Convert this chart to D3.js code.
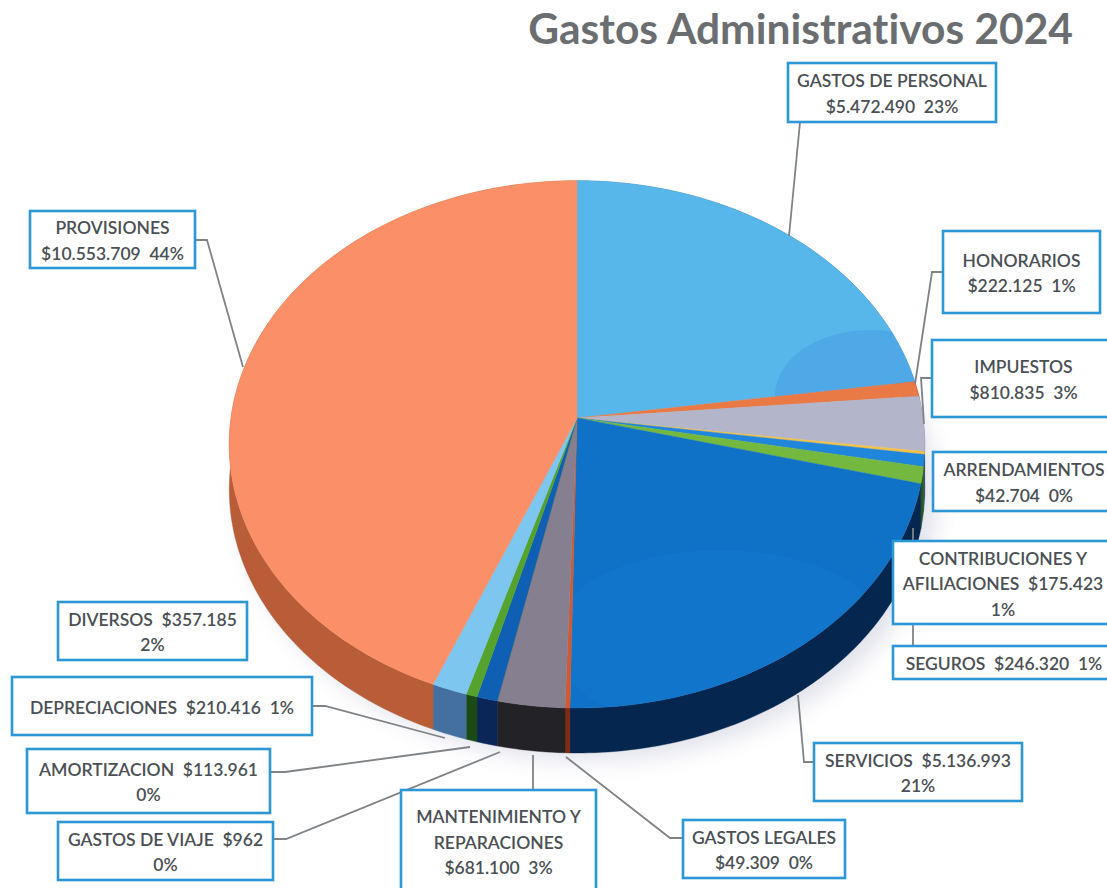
<!DOCTYPE html>
<html><head><meta charset="utf-8">
<script src="https://cdnjs.cloudflare.com/ajax/libs/d3/7.8.5/d3.min.js"></script>
<style>html,body{margin:0;background:#fff}svg{display:block}text{font-variant-ligatures:none}</style></head>
<body><svg id="c" width="1107" height="888"></svg>
<script>
const chartTitle = "Gastos Administrativos 2024";
const categories = ["GASTOS DE PERSONAL","HONORARIOS","IMPUESTOS","ARRENDAMIENTOS","CONTRIBUCIONES Y AFILIACIONES","SEGUROS","SERVICIOS","GASTOS LEGALES","MANTENIMIENTO Y REPARACIONES","GASTOS DE VIAJE","DEPRECIACIONES","AMORTIZACION","DIVERSOS","PROVISIONES"];
const values = [5472490,222125,810835,42704,175423,246320,5136993,49309,681100,962,210416,113961,357185,10553709];
const percents = ["23%","1%","3%","0%","1%","1%","21%","0%","3%","0%","1%","0%","2%","44%"];
const topColors = ["#58b7ea","#ea7a45","#b3b5cb","#f4c24a","#1f86dc","#74b83f","#0f72c6","#cf5a33","#857f8f","#b08a20","#0f5fb4","#55a32c","#7cc6ef","#fb9068"];
const wallColors = ["#2f6f98","#8a4526","#6c6d7c","#8e7220","#123f78","#2c5a20","#05264f","#7a2d14","#232327","#4a3a10","#0a2558","#1b4a16","#44709f","#b85d38"];
const textTemplates = ["{n}\n{v}  {p}","{n}\n{v}  {p}","{n}\n{v}  {p}","{n}\n{v}  {p}","CONTRIBUCIONES Y\nAFILIACIONES  {v}\n{p}","{n}  {v}  {p}","{n}  {v}\n{p}","{n}\n{v}  {p}","MANTENIMIENTO Y\nREPARACIONES\n{v}  {p}","{n}  {v}\n{p}","{n}  {v}  {p}","{n}  {v}\n{p}","{n}  {v}\n{p}","{n}\n{v}  {p}"];
// label box [x0,y0,x1,y1]
const boxes = [[788,63,996,122],[943,231,1100,313],[932,340,1115,417],[933,452,1115,511],[893,541,1113,624],[893,646,1115,679],[814,743,1022,801],[683,820,845,878],[401,790,596,900],[58,822,273,880],[12,677,312,735],[27,749,270,813],[58,602,247,660],[30,211,195,268]];
// leader polylines
const leaders = [[[800,122],[789,236]],[[943,272],[932,272],[915,384]],[[932,378],[921,378],[924,424]],[],[],[[913,646],[913,528]],[[814,762],[804,762],[798,695]],[[683,838],[670,838],[566,757]],[[533,790],[533,755]],[[273,839],[286,839],[500,752]],[[312,706],[325,706],[445,738]],[[270,772],[285,772],[470,747]],[],[[195,240],[207,240],[243,367]]];

const svg = d3.select("#c");
const defs = svg.append("defs");
const apexX = 577, apexY = 418, radiusX = 346, radiusY = 261, persp = 0.1, depth = 45;
const scaleU = d3.scaleLinear().domain([0,1]).range([0,radiusX]);
const scaleV = d3.scaleLinear().domain([0,1]).range([0,radiusY]);
const project = (a, r=1) => {
  const u = Math.sin(a)*r, v = -Math.cos(a)*r, w = 1 - persp*v;
  return [apexX + scaleU(u)/w, apexY + scaleV(v)/w];
};
const arcs = d3.pie().sort(null).value(d=>d)(values);
const rim = d => { const n = Math.max(2, Math.ceil((d.endAngle-d.startAngle)*60)); return d3.range(n+1).map(i=>project(d.startAngle+(d.endAngle-d.startAngle)*i/n)); };
const line = d3.line();

defs.append("filter").attr("id","blur").attr("x","-20%").attr("y","-20%").attr("width","140%").attr("height","140%").append("feGaussianBlur").attr("stdDeviation",11);
const g = svg.append("g");
const fullRim = d3.range(0,361,3).map(a=>project(a*Math.PI/180));
g.append("path").attr("d",line(fullRim.map(p=>[p[0]+12,p[1]+depth+8]))+"Z").attr("fill","#c9cbdc").attr("opacity",.55).attr("filter","url(#blur)");

// walls
g.selectAll("path.wall").data(arcs).join("path").attr("class","wall")
 .attr("fill",(d,i)=>wallColors[i]).attr("stroke",(d,i)=>wallColors[i]).attr("stroke-width",.4)
 .attr("d",d=>{const r=rim(d);return line(r.concat(r.slice().reverse().map(p=>[p[0],p[1]+depth])))+"Z";});

// top faces
g.selectAll("path.top").data(arcs).join("path").attr("class","top")
 .attr("fill",(d,i)=>topColors[i]).attr("stroke",(d,i)=>topColors[i]).attr("stroke-width",.4)
 .attr("d",d=>line([[apexX,apexY]].concat(rim(d)))+"Z");

// shading patches on the two blue slices
const clip = (id,i)=>defs.append("clipPath").attr("id",id).append("path").attr("d",line([[apexX,apexY]].concat(rim(arcs[i])))+"Z");
clip("cp0",0); clip("cp6",6);
g.append("g").attr("clip-path","url(#cp0)").append("ellipse").attr("cx",870).attr("cy",395).attr("rx",95).attr("ry",65).attr("fill","#4a9fe3").attr("opacity",.55);
g.append("g").attr("clip-path","url(#cp6)").append("ellipse").attr("cx",720).attr("cy",640).attr("rx",170).attr("ry",90).attr("fill","#1a7fd6").attr("opacity",.28);

// leaders
svg.append("g").selectAll("path").data(leaders).join("path").attr("d",d=>d.length?line(d):null)
 .attr("fill","none").attr("stroke","#7f8386").attr("stroke-width",1.8);

// boxes + labels
const money = d3.formatLocale({decimal:",",thousands:".",grouping:[3],currency:["$",""]}).format("$,");
const lab = svg.append("g").selectAll("g").data(categories).join("g");
lab.append("rect").attr("x",(d,i)=>boxes[i][0]).attr("y",(d,i)=>boxes[i][1])
 .attr("width",(d,i)=>boxes[i][2]-boxes[i][0]).attr("height",(d,i)=>boxes[i][3]-boxes[i][1])
 .attr("fill","#fff").attr("stroke","#2b97d4").attr("stroke-width",2.6);
const lh = 25.5;
lab.each(function(d,i){
  const b = boxes[i];
  const rows = textTemplates[i].replace("{n}",d).replace("{v}",money(values[i])).replace("{p}",percents[i]).split("\n");
  const top = i===8 ? 817 : (b[1]+b[3])/2 - (rows.length-1)*lh/2 + 1.5;
  d3.select(this).selectAll("text").data(rows).join("text")
   .attr("x",(b[0]+b[2])/2).attr("y",(r,k)=>top+k*lh).attr("dy","0.35em").attr("text-anchor","middle")
   .style("white-space","pre")
   .attr("font-family","Lato, sans-serif").attr("font-weight",600).attr("font-size",17.5).attr("fill","#4a5054").text(r=>r);
});
svg.append("text").attr("x",1073).attr("y",44).attr("text-anchor","end").attr("font-family","Lato, sans-serif").attr("font-weight",700).attr("font-size",42.5).attr("fill","#6a6e70").text(chartTitle);
</script></body></html>
